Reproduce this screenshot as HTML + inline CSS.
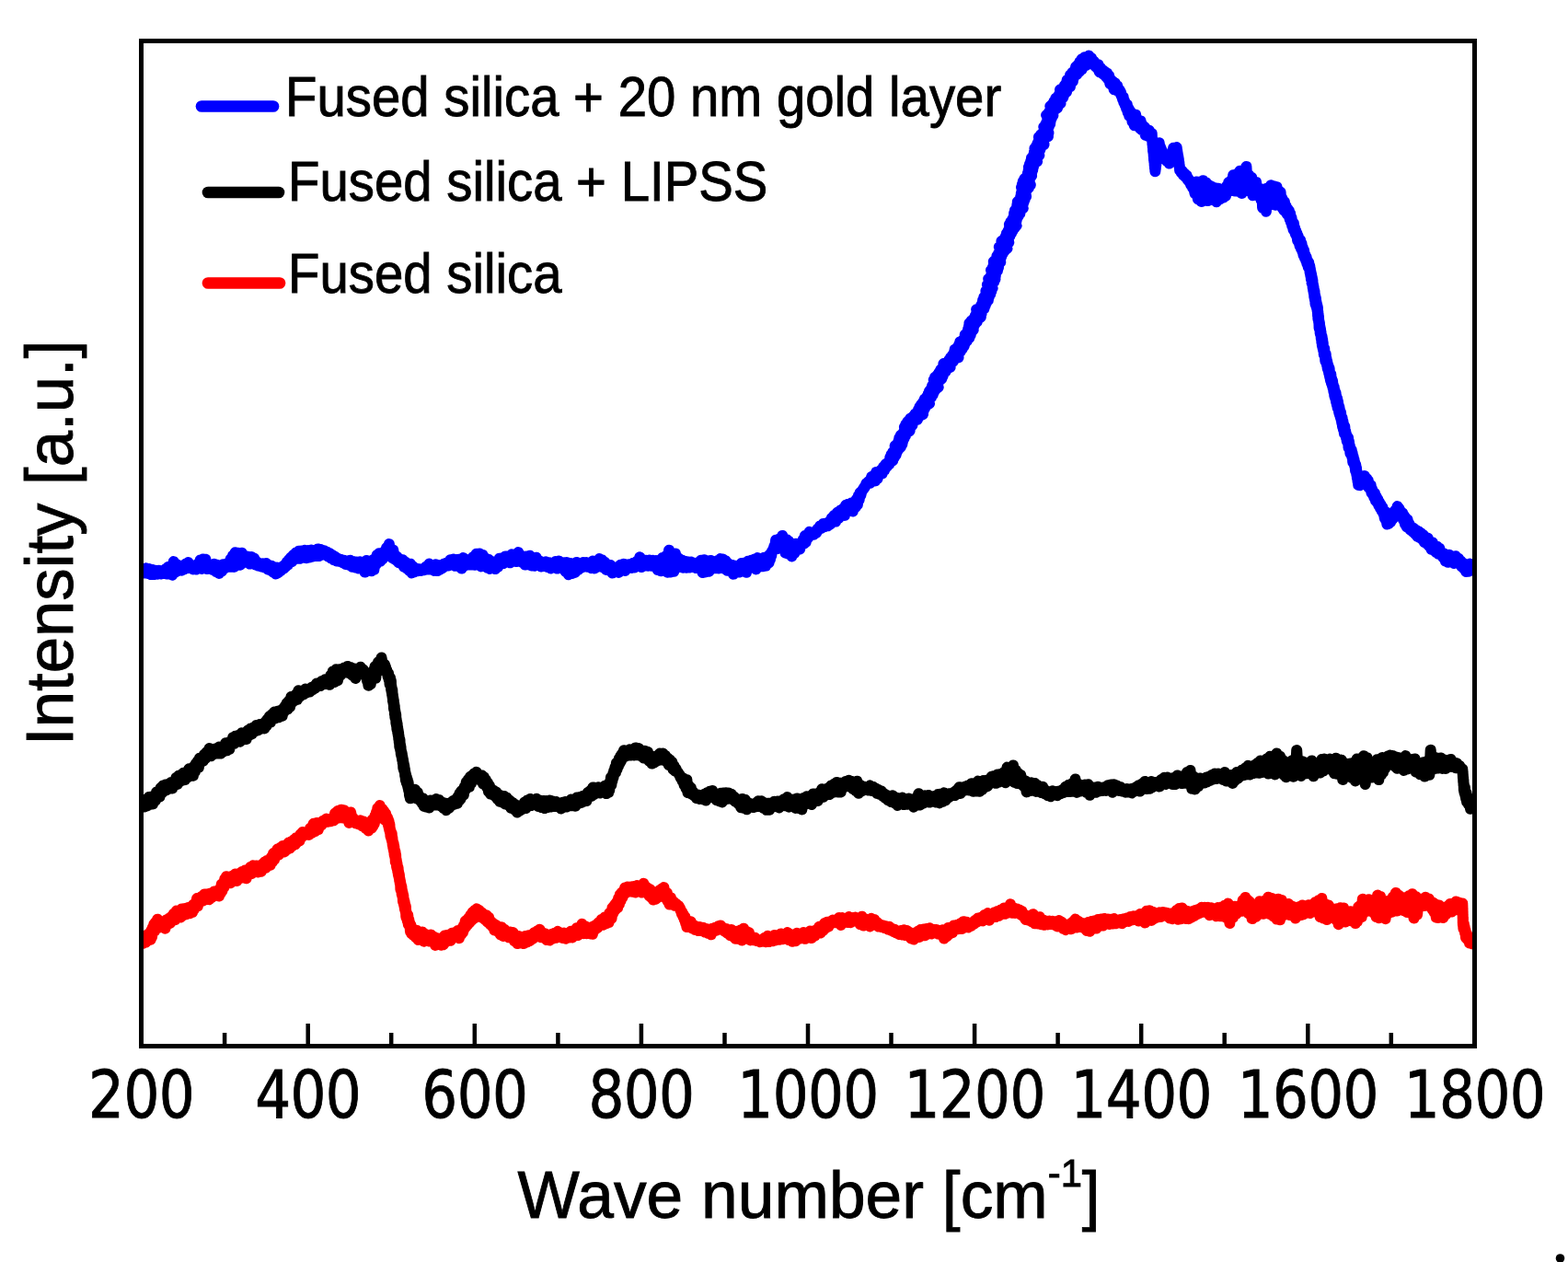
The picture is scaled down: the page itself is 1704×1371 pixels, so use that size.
<!DOCTYPE html>
<html><head><meta charset="utf-8"><title>Raman spectra</title>
<style>html,body{margin:0;padding:0;background:#fff;}svg{display:block}</style></head>
<body>
<svg width="1704" height="1371" viewBox="0 0 1704 1371">
<rect width="1704" height="1371" fill="#fff"/>
<defs><clipPath id="pa"><rect x="153" y="44" width="1450" height="1093"/></clipPath></defs>
<g clip-path="url(#pa)">
<path d="M153.5,623.0 155.3,618.3 157.0,622.4 158.8,617.3 160.6,623.0 162.3,618.1 164.1,624.1 165.8,618.9 167.6,624.0 169.4,619.7 171.1,623.8 172.9,619.7 174.6,623.5 176.4,621.8 177.9,623.1 179.5,618.5 181.0,623.4 182.6,616.0 184.1,623.4 185.7,615.3 187.2,624.7 188.7,610.1 190.5,621.6 192.3,613.3 194.0,620.0 195.8,614.8 197.5,619.7 198.9,614.3 200.4,618.3 201.8,612.5 203.2,617.2 204.6,611.0 206.3,616.9 208.1,614.0 209.9,618.4 211.6,615.8 213.1,618.6 214.6,612.9 216.0,616.1 217.5,608.6 219.0,618.0 220.4,607.5 221.9,615.1 223.4,607.7 224.8,618.1 226.3,612.6 227.8,617.3 229.2,614.7 231.0,619.0 232.7,612.8 234.5,620.9 236.3,613.7 238.0,622.9 239.5,614.2 241.0,620.5 242.4,613.2 243.9,617.6 245.4,613.6 246.8,615.4 248.1,611.2 249.3,615.7 250.6,607.4 251.9,615.8 253.1,603.4 254.4,615.9 255.6,600.3 257.4,611.1 259.2,600.8 260.9,613.7 262.7,600.7 264.4,611.2 266.2,604.1 268.0,610.8 269.7,604.8 271.5,612.6 273.2,605.0 274.7,612.0 276.2,606.6 277.6,613.4 279.1,610.1 280.6,614.6 282.0,612.6 283.8,615.5 285.6,612.3 287.3,616.5 289.1,611.9 290.8,618.4 292.3,614.1 293.8,619.6 295.2,614.7 296.7,621.5 298.2,617.2 299.6,623.4 301.1,616.5 302.6,622.2 304.0,617.2 305.5,619.8 307.0,615.5 308.5,617.5 309.6,613.6 310.7,615.5 311.8,610.5 312.9,613.6 314.0,607.9 315.1,610.6 316.2,605.6 317.3,610.1 318.7,603.1 320.2,606.4 321.7,600.4 323.1,606.8 324.6,598.7 326.1,606.8 327.8,598.6 329.6,605.7 331.3,597.8 333.1,606.2 334.9,598.1 336.6,605.5 338.4,597.5 340.1,604.4 341.9,597.7 343.7,604.1 345.4,596.4 347.2,603.9 348.9,597.0 350.7,602.6 352.5,598.3 353.9,601.8 355.4,599.7 356.9,604.7 358.3,601.0 359.8,606.6 361.3,603.0 362.7,608.2 364.2,604.8 365.7,609.5 367.1,606.7 368.6,609.8 370.1,607.7 371.8,610.9 373.6,608.8 375.4,612.9 377.1,609.4 378.9,613.6 380.6,608.7 382.4,615.7 384.2,609.9 385.9,616.4 387.7,610.4 389.4,617.5 391.2,610.3 393.0,617.6 394.7,610.8 396.5,621.6 398.2,609.0 400.0,619.1 401.8,611.2 403.5,620.3 405.3,608.2 406.4,618.8 407.5,608.6 408.6,613.2 409.7,602.9 410.8,610.3 411.9,601.3 413.0,609.9 414.1,602.0 415.6,607.5 417.0,599.7 418.5,604.5 420.0,595.1 421.4,603.4 422.9,591.1 424.0,602.9 425.1,597.7 426.2,606.0 427.3,597.6 428.4,607.2 429.5,603.1 430.6,608.7 431.7,605.1 433.2,611.0 434.6,607.6 436.1,612.5 437.6,608.2 439.0,615.8 440.5,610.5 441.9,617.5 443.3,612.7 444.6,619.7 446.0,612.7 447.4,622.4 448.8,615.4 450.6,621.2 452.3,617.6 454.1,620.3 455.8,618.3 457.6,620.1 459.4,617.9 461.1,619.3 462.9,615.8 464.6,618.4 466.4,612.6 468.2,618.6 469.9,614.7 471.7,619.9 473.5,613.2 475.2,620.1 476.7,614.6 478.1,618.9 479.6,613.7 481.1,617.1 482.5,612.5 484.0,614.9 485.8,611.5 487.5,614.6 489.3,608.2 491.1,613.2 492.8,607.4 494.6,614.8 496.3,607.9 498.1,614.2 499.9,607.4 501.6,617.6 503.4,606.1 505.1,614.5 506.9,608.1 508.7,613.6 510.4,608.4 512.2,613.5 513.9,605.2 515.7,613.8 517.5,601.7 519.2,613.6 521.0,601.4 522.7,615.4 524.5,603.0 526.3,614.6 528.0,606.5 529.5,616.6 531.0,608.0 532.4,617.9 533.9,609.9 535.4,617.3 536.8,612.3 538.3,618.1 539.8,610.5 541.2,615.8 542.7,606.7 544.2,612.3 545.6,606.3 547.4,612.0 549.2,604.4 550.9,610.3 552.7,604.2 554.4,611.3 556.2,602.3 558.0,609.7 559.7,603.1 561.5,610.0 563.2,600.1 564.7,609.2 566.2,604.1 567.6,611.1 569.1,604.6 570.6,613.6 572.0,604.5 573.8,612.6 575.6,603.7 577.3,614.5 579.1,606.5 580.8,614.8 582.6,605.7 584.4,613.8 586.1,609.2 587.9,615.4 589.6,611.2 591.4,615.0 593.2,610.3 594.9,616.0 596.7,611.2 598.5,617.5 600.2,611.5 602.0,616.2 603.7,610.1 605.5,617.6 607.3,609.6 608.7,616.7 610.2,611.5 611.7,617.4 613.1,611.2 614.6,621.0 616.1,611.1 617.8,624.2 619.6,611.9 621.3,623.1 623.1,612.9 624.9,621.9 626.6,610.9 628.4,618.9 630.1,612.4 631.9,616.8 633.7,611.0 635.4,615.6 637.2,611.0 638.9,615.8 640.7,612.0 642.5,617.2 644.2,609.6 646.0,617.4 647.7,609.8 649.5,615.8 651.3,607.1 652.7,615.3 654.2,608.3 655.7,616.7 657.1,610.6 658.6,618.9 660.1,613.0 661.8,619.2 663.6,614.0 665.4,622.5 667.1,616.5 668.9,620.6 670.6,616.7 672.4,621.9 674.2,613.7 675.9,619.5 677.7,612.7 679.4,619.9 681.2,613.6 683.0,616.5 684.7,612.9 686.5,616.9 688.2,611.7 690.0,616.4 691.8,610.0 693.5,613.8 695.3,605.3 697.0,616.1 698.8,608.3 700.6,614.6 702.3,608.7 704.1,614.7 705.8,608.6 707.6,614.8 709.4,608.8 711.1,615.2 712.9,608.9 714.6,619.0 716.4,610.4 718.2,620.3 719.9,606.0 721.7,619.8 723.5,604.1 725.2,621.7 727.0,597.8 728.7,621.5 730.5,605.7 732.3,620.8 734.0,601.5 735.8,616.6 737.5,606.6 739.3,616.0 741.0,608.5 742.6,616.7 744.3,609.8 745.9,616.7 747.6,610.4 749.4,616.6 751.1,610.6 752.9,616.0 754.6,611.8 756.4,617.0 758.2,611.3 759.9,617.2 761.7,608.7 763.5,622.1 765.2,608.2 767.0,621.4 768.7,609.4 770.5,620.7 772.3,608.9 774.0,617.1 775.8,610.7 777.5,617.2 779.3,609.3 781.1,617.4 782.8,607.1 784.3,614.5 785.8,607.6 787.2,617.6 788.7,609.4 790.2,619.8 791.6,612.5 793.4,619.0 795.1,613.8 796.9,623.7 798.7,614.7 800.4,621.0 802.2,614.7 803.9,621.5 805.7,611.9 807.5,619.8 809.2,611.6 811.0,621.8 812.7,609.8 814.5,616.9 816.3,608.7 818.0,615.1 819.8,607.6 821.5,618.4 823.3,606.1 825.1,615.5 826.8,607.0 828.6,615.3 830.4,605.7 832.1,614.7 833.9,605.7 835.6,611.4 836.3,602.5 837.0,607.7 837.6,601.3 838.3,603.6 838.9,598.9 839.6,599.2 840.3,596.5 840.9,595.4 841.6,592.9 842.3,593.9 843.1,586.7 844.9,596.0 846.6,585.6 848.4,593.1 850.2,581.9 851.3,593.3 852.5,585.4 853.6,600.7 854.7,586.2 855.9,601.4 857.0,587.9 858.2,600.5 859.3,591.8 860.4,604.4 861.9,591.0 863.3,601.0 864.8,590.7 866.3,597.5 867.7,591.8 869.2,596.6 870.6,590.0 871.7,591.6 872.7,586.1 873.7,590.5 874.7,582.1 875.7,588.9 877.0,581.4 878.3,584.2 879.6,577.8 880.8,581.3 882.5,578.4 884.2,580.8 885.9,578.2 887.2,578.8 888.5,574.5 889.8,575.3 891.1,571.4 892.8,573.7 894.5,569.0 896.2,572.2 897.9,568.4 899.6,571.3 901.3,566.8 902.5,569.6 903.8,562.7 905.1,567.3 906.4,559.9 908.1,566.6 909.8,556.8 911.5,562.9 913.2,554.4 914.9,560.0 916.6,552.2 917.9,559.9 919.1,548.8 920.4,555.7 921.7,547.7 923.4,554.7 925.1,546.6 926.8,555.5 928.3,546.3 929.9,550.9 930.9,542.1 931.9,548.2 932.9,538.3 933.7,542.7 934.6,535.3 935.4,537.9 936.2,534.2 937.0,533.1 937.9,531.6 938.7,530.8 939.6,528.7 940.4,528.5 941.3,525.6 942.1,525.7 943.8,523.0 945.5,524.8 947.2,517.9 948.5,522.5 949.8,516.4 951.0,522.4 952.3,512.9 953.6,520.1 954.9,512.5 956.1,515.9 957.4,510.6 958.7,514.4 960.0,507.2 961.3,510.7 962.5,504.2 963.8,507.1 965.1,502.1 966.4,504.3 966.9,500.5 970.2,500.4 967.3,496.9 971.7,497.4 968.6,493.8 973.6,494.5 970.4,490.9 974.7,491.3 972.4,488.1 976.4,488.4 972.6,484.4 978.8,485.9 975.1,481.9 980.4,482.7 976.5,479.1 981.2,479.4 977.3,475.8 982.6,476.4 978.8,472.8 984.1,473.4 981.4,470.4 985.7,470.5 982.7,467.3 988.6,468.2 982.9,463.8 988.9,464.7 984.4,460.9 991.4,462.2 986.2,458.1 991.5,460.8 989.2,454.7 993.3,457.1 992.1,452.5 996.9,455.8 994.5,449.6 999.6,452.1 996.9,448.5 1003.0,450.1 998.0,445.1 1003.6,446.5 999.4,442.0 1005.1,443.5 1001.3,439.2 1007.0,440.6 1003.4,436.5 1010.0,438.5 1004.8,433.4 1009.8,434.3 1007.3,430.9 1012.0,431.7 1008.7,428.0 1013.8,428.7 1009.9,424.9 1015.0,425.7 1011.8,422.3 1017.0,423.0 1013.0,419.2 1019.7,420.7 1014.8,416.4 1019.2,416.8 1014.7,412.7 1020.8,414.0 1016.1,409.8 1023.3,411.6 1018.6,407.4 1024.6,408.6 1020.5,404.7 1025.0,405.1 1022.4,401.4 1027.6,403.6 1024.8,399.1 1029.4,400.7 1025.4,395.1 1032.6,399.1 1029.5,394.2 1033.2,395.1 1031.1,391.2 1035.7,392.9 1033.0,388.3 1037.5,389.9 1034.9,386.0 1041.5,388.4 1036.7,383.1 1041.4,384.2 1037.6,379.7 1043.8,381.8 1040.3,377.4 1045.7,379.0 1042.1,374.5 1047.6,376.1 1043.3,371.2 1048.9,373.0 1046.4,369.3 1050.9,370.2 1048.2,366.9 1053.3,367.3 1048.7,363.5 1054.7,364.3 1051.1,360.9 1055.4,361.0 1052.0,357.7 1057.7,358.4 1052.9,354.5 1058.2,355.0 1053.4,351.0 1059.7,352.0 1055.6,348.4 1061.8,349.6 1058.3,345.9 1062.7,346.4 1059.8,343.0 1065.8,344.5 1061.1,340.0 1066.5,341.2 1061.1,336.3 1067.3,338.0 1064.4,334.5 1069.4,335.4 1066.2,331.8 1070.6,332.4 1067.5,328.9 1071.9,329.1 1068.1,326.0 1073.9,326.1 1069.3,322.7 1074.8,322.7 1071.2,319.7 1076.3,319.6 1071.4,316.1 1077.4,316.3 1073.1,313.1 1078.7,313.1 1072.9,309.3 1078.4,309.3 1075.0,306.5 1080.1,306.4 1074.2,302.9 1081.5,303.4 1076.6,300.2 1081.8,300.1 1077.5,297.0 1082.4,296.9 1077.0,293.5 1084.0,294.0 1078.8,290.6 1085.0,290.8 1079.8,287.5 1085.5,287.6 1079.8,284.1 1087.3,284.7 1082.4,281.5 1087.4,281.5 1083.4,278.1 1088.4,278.3 1085.1,275.2 1089.8,275.3 1086.6,272.2 1091.8,272.5 1085.8,268.2 1094.5,270.0 1089.2,266.0 1093.6,266.0 1088.4,262.0 1096.3,263.5 1091.2,259.6 1096.0,259.8 1092.9,256.6 1097.4,256.7 1093.9,253.5 1099.0,253.7 1095.6,250.5 1100.6,250.7 1096.8,247.4 1102.4,247.8 1096.9,243.8 1104.7,245.1 1098.4,240.8 1104.3,241.3 1100.4,237.9 1105.0,238.0 1101.7,234.9 1106.7,235.0 1102.1,231.6 1108.4,232.0 1103.0,228.4 1109.2,228.8 1104.8,225.6 1111.8,226.2 1105.4,222.4 1111.6,222.7 1105.8,219.1 1112.6,219.6 1108.5,216.5 1113.7,216.6 1109.2,213.4 1115.1,213.6 1109.8,210.1 1114.7,210.0 1110.5,206.9 1115.7,206.8 1110.0,203.5 1117.9,204.0 1110.9,200.3 1119.8,201.0 1111.8,197.1 1118.8,197.3 1113.4,194.1 1119.4,194.0 1116.1,191.4 1121.1,191.1 1116.9,188.2 1121.3,187.7 1117.7,184.9 1122.3,184.5 1117.9,181.4 1123.1,181.3 1119.0,178.1 1124.2,178.1 1120.2,174.9 1127.2,175.4 1121.0,171.5 1126.9,171.6 1123.1,168.5 1129.4,168.8 1123.9,165.2 1128.5,164.9 1124.4,161.3 1130.4,162.5 1126.1,158.5 1130.8,159.0 1127.5,155.5 1134.5,157.2 1128.8,152.5 1134.3,153.5 1128.9,148.9 1135.3,150.3 1131.0,146.3 1138.9,148.4 1133.2,144.3 1139.5,144.5 1135.0,141.4 1138.7,140.8 1134.3,137.8 1139.8,137.7 1136.3,135.0 1141.2,134.7 1137.6,132.0 1141.7,131.5 1138.7,128.9 1142.8,128.4 1137.1,125.0 1144.4,125.5 1139.9,122.0 1144.7,122.5 1141.3,119.0 1146.0,119.5 1141.3,115.4 1149.0,117.4 1143.9,113.0 1149.6,114.0 1145.5,110.2 1152.5,112.4 1147.2,106.8 1152.9,108.6 1149.8,104.3 1155.3,105.9 1151.5,101.3 1156.6,102.6 1152.0,97.4 1159.0,99.9 1155.7,95.8 1160.0,96.4 1156.9,92.8 1162.9,94.4 1158.7,90.2 1163.1,90.8 1159.6,87.0 1165.8,88.7 1162.1,84.7 1166.6,85.4 1163.0,81.5 1167.8,82.8 1165.4,78.6 1170.6,80.5 1168.0,76.2 1173.0,77.9 1169.1,72.6 1175.6,75.5 1171.6,70.1 1176.6,71.9 1173.5,67.1 1180.7,70.7 1175.6,64.3 1182.1,67.4 1178.6,62.2 1181.7,67.0 1183.2,60.5 1184.6,66.4 1186.1,63.0 1187.5,67.6 1188.7,66.4 1190.0,72.0 1191.2,69.2 1192.4,74.0 1193.6,70.2 1194.8,78.3 1196.0,73.8 1197.3,79.5 1198.5,76.1 1199.7,81.1 1200.9,77.9 1202.1,83.6 1203.2,79.6 1204.2,86.2 1205.2,82.4 1206.3,91.0 1207.3,86.5 1208.4,92.5 1209.4,88.6 1210.6,97.1 1211.8,90.5 1213.1,98.0 1214.3,93.4 1215.5,99.2 1216.7,97.8 1217.4,101.5 1218.0,100.0 1218.7,104.4 1219.4,103.8 1220.0,107.9 1220.7,105.5 1221.3,111.4 1222.0,109.6 1222.7,114.5 1223.3,112.4 1224.0,117.7 1224.8,113.6 1225.6,122.0 1226.4,117.8 1227.2,125.8 1228.0,120.4 1228.9,127.4 1229.7,122.6 1230.5,132.2 1231.3,124.4 1232.7,136.2 1234.2,124.8 1235.7,135.1 1237.1,130.2 1238.6,139.3 1239.6,131.4 1240.7,141.0 1241.7,136.1 1242.8,142.2 1243.8,138.1 1244.8,146.7 1245.9,140.5 1247.3,147.8 1248.8,141.8 1250.3,147.7 1251.7,144.8 1251.9,149.9 1252.0,149.5 1252.2,153.7 1252.3,151.4 1252.5,157.2 1252.7,155.4 1252.8,160.2 1253.0,158.7 1253.1,164.3 1253.3,162.2 1253.5,166.4 1253.6,165.9 1253.8,169.9 1253.9,168.6 1254.1,174.2 1254.3,171.8 1254.4,176.3 1254.6,175.7 1254.7,179.8 1254.9,178.7 1255.0,183.0 1255.2,181.7 1255.4,186.2 1255.6,181.1 1255.8,183.4 1256.0,178.9 1256.2,179.9 1256.4,175.9 1256.6,176.8 1256.8,171.9 1257.0,173.4 1257.2,169.0 1257.4,170.2 1257.6,165.8 1257.8,166.7 1258.0,162.8 1258.2,163.3 1258.4,159.4 1258.6,160.2 1258.8,156.5 1259.0,157.3 1259.7,155.2 1260.3,160.2 1261.0,159.4 1261.6,163.5 1262.2,162.3 1262.9,166.5 1263.5,165.8 1264.2,171.1 1264.8,169.2 1266.0,173.1 1267.2,171.4 1268.3,175.4 1269.5,174.2 1270.7,177.6 1271.2,173.4 1271.7,175.3 1272.1,169.1 1272.6,170.8 1273.1,166.7 1273.6,168.2 1274.1,164.0 1274.6,164.5 1275.1,160.7 1276.9,162.9 1278.7,160.0 1279.0,164.4 1279.2,163.4 1279.5,169.0 1279.7,166.6 1280.0,171.6 1280.3,169.8 1280.5,174.6 1280.8,172.7 1281.0,178.4 1281.3,176.1 1281.6,181.3 1281.8,180.0 1282.1,185.1 1282.3,182.7 1283.6,187.5 1284.8,185.9 1286.0,190.3 1287.2,188.3 1288.4,192.5 1289.6,190.6 1290.6,195.1 1291.5,194.1 1292.4,197.6 1293.3,196.8 1294.2,201.1 1295.1,199.2 1296.0,204.0 1296.9,202.2 1298.6,210.3 1300.2,197.5 1301.9,216.5 1303.7,197.4 1305.5,219.0 1307.4,196.2 1309.2,216.0 1310.6,198.6 1312.1,218.1 1313.6,201.3 1315.0,217.0 1316.5,202.7 1318.3,217.3 1320.1,204.1 1321.9,219.3 1323.8,204.7 1325.6,216.6 1327.4,206.1 1329.2,214.7 1331.1,207.0 1332.1,212.8 1333.1,202.2 1334.2,208.4 1335.2,198.2 1336.3,207.5 1337.3,196.6 1338.4,205.4 1340.2,190.3 1342.0,207.5 1343.8,189.2 1345.6,207.9 1347.5,185.7 1349.3,210.0 1351.1,188.9 1352.9,202.9 1354.4,180.9 1355.9,207.0 1357.3,190.5 1358.8,205.6 1360.2,192.9 1361.4,212.2 1362.7,198.4 1363.9,210.0 1365.1,198.0 1366.3,211.0 1367.5,205.3 1368.4,213.6 1369.4,205.8 1370.3,216.7 1371.2,205.4 1372.1,225.7 1373.0,210.0 1373.9,223.9 1374.8,208.0 1375.9,229.7 1376.9,204.5 1377.9,222.4 1379.0,205.0 1380.0,218.9 1381.1,201.3 1382.1,221.9 1383.9,202.3 1385.8,222.7 1387.6,203.3 1389.4,215.2 1390.1,207.7 1390.9,220.2 1391.6,208.7 1392.3,221.8 1393.1,215.3 1393.8,226.3 1394.5,217.9 1395.2,228.5 1396.0,219.7 1396.7,229.6 1397.7,224.1 1398.6,232.5 1399.6,227.5 1400.3,233.9 1400.9,229.1 1401.6,238.0 1402.2,232.3 1402.9,241.5 1403.5,236.6 1404.2,245.4 1404.8,241.1 1405.5,249.6 1406.0,243.1 1406.6,250.9 1407.2,247.8 1407.8,254.1 1408.4,251.1 1409.0,256.5 1409.5,254.0 1410.1,261.3 1410.7,256.7 1411.3,263.5 1411.9,260.7 1412.6,267.3 1413.2,261.3 1413.9,270.0 1414.5,264.6 1415.2,272.7 1415.8,269.2 1416.5,277.1 1417.1,272.2 1417.8,279.9 1418.4,276.8 1419.1,282.7 1419.7,279.7 1420.4,286.7 1421.0,283.3 1421.7,290.2 1422.3,285.5 1423.0,292.8 1423.3,288.8 1423.6,296.3 1423.9,292.0 1424.3,299.6 1424.6,295.6 1424.9,303.6 1425.2,298.2 1425.6,307.8 1425.9,301.8 1426.1,308.2 1426.4,304.3 1426.7,312.8 1426.9,308.6 1427.2,315.7 1427.5,311.5 1427.7,318.4 1428.0,314.6 1428.3,322.7 1428.5,316.2 1428.8,325.4 1429.2,321.3 1429.5,330.2 1429.9,323.8 1430.3,332.4 1430.6,328.5 1431.0,335.0 1431.3,331.4 1431.7,338.4 1431.9,333.8 1432.1,343.4 1432.3,338.3 1432.4,346.7 1432.6,340.9 1432.8,347.9 1433.0,343.7 1433.2,350.5 1433.3,347.7 1433.6,356.6 1433.9,350.4 1434.2,357.8 1434.4,354.4 1434.7,362.3 1435.0,357.2 1435.3,364.3 1435.5,360.4 1435.8,368.0 1436.1,364.6 1436.4,372.2 1436.6,365.5 1436.9,375.5 1437.2,368.8 1437.5,378.0 1437.7,372.1 1438.0,380.2 1438.4,377.5 1438.8,385.1 1439.2,378.4 1439.6,386.7 1439.9,384.1 1440.3,392.3 1440.7,384.6 1441.1,393.1 1441.5,389.7 1441.9,396.5 1442.3,393.0 1442.7,400.5 1443.1,396.4 1443.5,402.6 1443.8,398.2 1444.2,405.7 1444.6,400.2 1445.0,409.0 1445.4,405.8 1445.9,413.1 1446.3,406.6 1446.8,415.8 1447.2,411.6 1447.6,418.2 1448.1,414.0 1448.5,421.5 1448.9,418.6 1449.4,425.5 1449.8,421.1 1450.3,430.2 1450.7,425.1 1451.1,432.6 1451.6,427.1 1452.0,436.6 1452.4,431.0 1452.8,439.7 1453.2,433.0 1453.6,442.9 1454.0,436.2 1454.3,443.8 1454.7,440.2 1455.1,448.0 1455.5,442.8 1455.9,450.8 1456.3,446.4 1456.7,453.1 1457.1,448.6 1457.5,455.8 1457.8,452.6 1458.2,459.4 1458.6,453.9 1459.0,463.5 1459.5,458.0 1459.9,466.7 1460.4,462.0 1460.9,470.9 1461.3,463.2 1461.8,471.9 1462.3,468.7 1462.7,474.9 1463.2,472.1 1463.7,479.1 1464.1,474.8 1464.6,480.7 1465.1,475.7 1465.5,486.4 1466.0,479.9 1466.5,487.3 1466.9,484.5 1467.4,492.7 1467.9,487.6 1468.3,493.3 1468.8,489.2 1469.3,496.6 1469.7,492.6 1470.2,502.0 1470.7,496.4 1471.1,502.8 1471.6,499.7 1472.1,506.1 1472.5,503.2 1473.0,511.3 1473.3,504.9 1473.6,512.8 1474.0,508.1 1474.3,515.8 1474.6,512.4 1474.9,519.4 1475.2,516.3 1475.6,523.3 1475.9,519.3 1476.2,526.9 1476.5,520.8 1478.1,527.2 1479.8,519.8 1481.4,525.1 1483.0,517.1 1484.7,523.4 1485.4,520.2 1486.1,525.9 1486.8,522.2 1487.6,529.9 1488.3,525.9 1489.0,531.3 1489.7,527.2 1490.4,535.3 1491.1,531.4 1491.9,537.6 1492.6,534.7 1493.3,540.6 1494.0,535.9 1494.9,543.9 1495.7,539.7 1496.6,545.8 1497.4,542.5 1498.3,549.1 1499.1,545.8 1500.0,552.2 1500.8,548.7 1501.7,555.2 1502.5,551.4 1503.3,557.7 1504.0,555.0 1504.7,562.8 1505.3,556.1 1506.0,564.9 1506.7,559.5 1507.3,569.4 1508.0,564.3 1509.1,569.0 1510.1,561.8 1511.2,567.1 1512.3,560.1 1513.3,564.0 1514.4,556.3 1515.4,561.7 1516.5,554.0 1517.6,559.4 1518.6,550.1 1519.7,556.5 1520.6,552.7 1521.5,559.0 1522.4,555.7 1523.3,561.8 1524.2,557.3 1525.1,564.7 1526.0,560.7 1526.9,569.5 1527.8,562.9 1528.7,572.4 1529.6,564.6 1530.5,573.2 1531.4,569.1 1532.6,575.6 1533.9,572.4 1535.2,577.7 1536.4,573.9 1537.7,579.9 1539.0,576.0 1540.3,582.9 1541.5,577.3 1542.8,583.9 1544.1,579.0 1545.4,585.8 1546.6,581.1 1547.9,589.2 1549.2,583.6 1550.4,590.7 1551.7,584.5 1553.0,593.3 1554.3,589.3 1555.5,596.8 1556.8,589.5 1558.1,598.0 1559.4,593.4 1560.6,600.2 1561.9,593.8 1563.2,601.8 1564.4,596.0 1565.7,602.6 1567.0,600.0 1568.3,605.8 1569.5,601.6 1570.8,609.6 1572.1,603.2 1573.4,610.8 1575.0,602.8 1576.7,609.7 1578.4,605.0 1580.0,611.9 1581.7,604.2 1583.4,611.6 1585.0,606.8 1586.2,613.0 1587.4,609.5 1588.5,615.6 1589.7,611.6 1590.9,617.8 1592.0,612.9 1593.2,621.0 1594.4,615.2 1595.9,620.8 1597.5,612.6 1599.0,616.4" fill="none" stroke="#0000ff" stroke-width="12" stroke-linejoin="round" stroke-miterlimit="2.5" stroke-linecap="round"/>
<path d="M157.0,876.5 158.6,868.4 160.1,875.4 161.6,866.0 163.1,873.9 164.6,865.5 166.1,873.4 167.6,865.4 168.8,869.7 170.0,860.6 171.1,866.7 172.3,859.6 173.5,865.5 174.6,855.9 175.8,861.7 177.0,853.6 178.2,859.6 179.7,852.5 181.2,858.2 182.7,851.9 184.2,856.5 185.7,850.1 187.2,856.5 188.7,849.3 190.1,853.0 191.4,844.9 192.7,851.8 194.0,842.7 195.3,849.0 196.7,841.7 198.0,846.8 199.3,839.8 200.8,847.2 202.3,839.7 203.8,844.5 205.3,835.3 206.8,842.0 208.4,836.7 209.9,842.7 210.9,832.5 211.9,838.3 212.9,829.5 213.9,834.5 214.9,826.8 215.9,833.6 216.9,823.7 218.2,828.0 219.4,822.7 220.7,826.7 221.9,819.7 223.2,824.0 224.4,817.2 225.7,820.6 227.5,813.1 229.2,821.3 231.0,814.7 232.7,819.2 234.5,813.2 236.3,818.6 238.0,811.6 239.8,818.6 241.5,811.3 243.3,816.3 245.1,807.2 246.8,815.3 248.1,806.7 249.3,813.8 250.6,805.5 251.9,808.9 253.1,801.2 254.4,807.9 255.6,799.7 257.4,805.0 259.2,798.7 260.9,805.7 262.7,796.3 264.4,802.9 266.2,796.5 267.7,803.0 269.2,793.6 270.7,798.8 272.2,791.6 273.7,797.4 275.3,790.4 276.8,794.6 278.5,788.0 280.3,793.4 282.0,787.1 283.8,791.7 285.6,786.7 287.3,791.4 288.4,784.0 289.5,788.6 290.6,781.2 291.7,785.9 292.8,778.3 293.9,784.6 295.0,776.4 296.1,780.3 297.9,773.6 299.6,780.2 301.4,772.8 303.2,779.2 304.9,771.8 306.7,777.7 307.7,769.8 308.7,773.4 309.7,767.2 310.7,770.8 311.7,763.7 312.7,770.3 313.7,761.6 315.1,767.7 316.4,756.9 317.7,762.9 319.0,757.6 320.3,761.1 321.7,754.2 323.0,760.0 324.3,750.3 326.2,756.5 328.1,751.7 330.0,754.3 331.8,748.5 333.5,752.2 335.3,748.6 337.0,751.4 338.5,746.8 339.9,749.3 341.3,745.3 342.7,747.4 344.1,742.4 345.5,745.5 346.9,742.1 348.3,745.1 349.7,739.9 351.1,743.4 352.9,738.3 354.6,743.1 356.4,738.5 358.2,743.8 359.3,733.7 360.5,741.6 361.7,729.5 363.5,741.1 365.2,727.3 367.0,739.2 368.7,727.3 369.9,733.7 371.1,727.4 372.3,729.0 374.0,725.4 375.8,730.4 377.5,723.9 379.3,731.1 381.1,724.9 382.8,733.5 384.6,726.4 386.3,737.0 388.1,726.4 389.9,732.8 391.6,724.7 393.4,732.2 394.6,727.4 395.7,733.2 396.9,732.4 397.6,735.1 398.3,734.7 399.0,739.7 399.7,735.5 400.4,744.8 401.6,735.7 402.8,743.2 403.9,733.0 404.8,738.1 405.7,728.3 406.6,735.8 407.5,724.0 408.3,736.7 409.2,722.4 410.1,730.0 411.0,719.3 412.7,726.2 414.5,714.5 416.3,724.5 418.0,721.8 418.5,723.7 419.0,724.5 419.6,727.8 420.1,727.6 420.6,731.4 421.1,730.5 421.6,735.2 422.1,731.8 422.6,738.3 423.1,735.5 423.6,743.7 424.1,736.7 424.6,744.8 424.9,739.6 425.1,749.5 425.4,745.4 425.6,751.8 425.8,747.9 426.1,755.1 426.3,749.2 426.6,757.8 426.8,754.3 427.0,761.9 427.3,758.0 427.5,764.4 427.8,760.6 428.0,770.0 428.2,764.1 428.5,770.7 428.7,766.7 429.0,776.4 429.2,771.1 429.4,779.6 429.7,774.0 429.9,780.9 430.2,776.1 430.4,786.0 430.6,780.8 430.9,788.3 431.1,783.7 431.4,792.4 431.6,785.9 431.9,793.0 432.1,789.8 432.3,796.6 432.6,793.0 432.8,799.4 433.1,795.6 433.3,803.2 433.5,799.0 433.8,806.7 434.0,802.5 434.3,811.6 434.5,803.6 434.7,812.0 435.0,808.7 435.2,815.1 435.5,811.1 435.8,819.3 436.1,816.1 436.5,822.1 436.8,818.8 437.1,825.4 437.4,822.3 437.7,829.0 438.0,825.2 438.3,834.6 438.6,828.8 438.9,836.4 439.3,831.9 439.6,838.6 439.9,835.6 440.2,843.1 440.5,839.1 440.9,847.8 441.3,842.6 441.7,850.2 442.1,845.3 442.5,852.0 442.9,847.7 443.3,855.2 443.7,850.5 444.1,858.8 444.6,855.7 445.0,864.1 445.4,858.1 445.8,867.3 447.6,858.6 449.3,865.2 451.1,857.8 452.9,867.5 453.9,861.1 454.8,867.4 455.8,864.8 456.8,870.2 457.8,866.8 458.8,872.9 459.7,867.4 460.7,875.9 461.7,872.3 463.2,876.6 464.8,872.0 466.3,877.5 467.9,869.6 469.4,874.7 470.9,869.5 472.5,874.6 474.0,868.1 475.6,874.6 477.1,869.0 478.6,875.3 480.2,871.6 481.7,877.9 483.3,872.6 484.8,880.2 486.3,873.8 487.8,878.1 489.4,872.1 490.9,875.2 492.4,869.9 493.9,873.6 495.4,868.1 496.9,872.8 497.8,865.1 498.7,870.0 499.5,861.9 500.4,868.0 501.3,859.3 502.2,864.9 503.1,857.7 503.9,863.3 504.8,854.6 505.7,858.1 506.8,849.4 507.8,855.9 508.9,846.6 509.9,854.9 511.0,843.8 512.0,850.9 513.1,842.6 514.2,847.2 515.2,840.4 516.3,846.4 517.7,838.8 519.2,845.4 520.7,842.0 522.1,847.9 523.6,842.4 525.1,851.7 526.0,844.4 527.0,852.4 528.0,847.5 529.0,855.3 530.0,850.6 530.9,859.9 531.9,853.7 532.9,862.6 533.9,857.2 535.2,863.2 536.5,858.7 537.8,864.9 539.2,860.5 540.5,868.1 541.8,863.1 543.1,870.8 544.4,864.3 546.0,871.6 547.5,864.9 549.1,873.5 550.6,866.7 552.1,874.5 553.7,869.5 555.2,877.7 556.8,871.7 558.5,879.1 560.3,874.1 562.0,882.5 563.8,875.4 565.3,880.4 566.9,874.8 568.4,878.6 570.0,871.6 571.5,878.1 573.0,869.4 574.6,875.7 576.1,867.9 577.9,874.9 579.6,869.0 581.4,874.3 583.2,867.7 584.9,875.9 586.7,869.6 588.5,877.1 590.2,869.9 592.0,878.1 593.7,870.0 595.5,877.0 597.3,869.6 599.0,876.4 600.8,870.5 602.5,876.1 604.3,871.0 606.1,876.2 607.8,872.2 609.6,878.5 611.3,871.8 612.9,876.7 614.4,871.1 616.0,876.4 617.5,870.9 619.0,875.3 620.6,868.6 622.1,875.2 623.7,869.1 625.2,875.7 626.7,866.5 628.3,872.9 629.8,866.1 631.4,872.0 632.9,865.1 634.4,870.8 636.0,864.3 637.4,870.1 638.7,861.1 640.1,865.6 641.5,859.1 642.8,864.8 644.2,855.5 645.6,863.0 646.9,855.8 648.3,860.7 650.1,855.3 651.8,861.6 653.6,856.1 655.4,860.6 657.1,853.8 658.9,862.1 660.6,854.3 661.2,861.0 661.7,852.4 662.3,858.1 662.8,849.5 663.3,853.2 663.9,844.6 664.4,852.6 665.0,843.5 665.5,847.9 666.1,840.9 666.6,844.3 667.1,837.6 667.7,840.7 668.4,833.7 669.1,839.0 669.9,828.8 670.6,835.6 671.3,828.6 672.1,831.9 672.8,824.0 673.5,828.8 674.3,821.5 675.0,826.5 675.7,819.3 676.5,823.4 678.0,815.2 679.6,822.0 681.1,817.1 682.6,820.8 684.2,814.3 685.7,820.5 687.3,815.3 688.8,820.5 690.6,812.4 692.3,820.2 694.1,813.0 695.8,821.0 697.6,815.4 699.4,823.5 700.9,815.8 702.4,823.6 703.9,816.9 705.4,826.6 706.9,820.8 708.4,829.6 709.9,822.2 711.7,828.3 713.5,821.3 715.2,826.0 717.0,818.6 718.7,825.6 720.5,818.6 721.8,825.9 723.0,820.8 724.3,827.4 725.5,823.5 726.8,831.2 728.0,825.5 729.3,832.1 730.3,827.8 731.4,835.7 732.4,831.8 733.5,837.4 734.5,835.0 735.5,838.4 736.6,838.7 737.6,840.7 738.6,841.8 739.6,844.8 740.5,844.2 741.5,848.3 742.5,845.4 743.5,852.7 744.5,847.8 745.4,856.5 746.4,847.3 747.5,861.2 748.6,853.6 749.7,860.7 750.8,855.8 751.9,862.8 753.0,860.0 754.1,864.2 755.2,863.3 757.0,867.2 758.7,863.4 760.5,868.0 762.3,864.0 764.0,868.3 765.5,862.8 766.9,869.6 768.4,861.3 769.9,866.9 771.3,859.8 772.8,865.2 774.3,859.0 775.8,865.8 777.2,862.2 778.7,869.3 780.2,862.9 781.6,870.4 783.1,861.8 784.6,871.5 786.0,861.4 787.5,866.8 789.0,861.2 790.4,867.9 791.9,861.5 793.4,867.0 794.8,862.8 796.3,868.7 797.8,865.7 799.2,870.8 800.7,868.0 802.2,872.9 803.6,869.4 805.1,877.2 806.6,867.9 808.0,877.8 809.8,869.0 811.5,879.3 813.3,872.1 815.1,876.4 816.8,873.6 818.6,877.1 820.4,872.9 822.1,876.2 823.9,870.3 825.6,876.0 827.4,870.3 829.2,877.7 830.9,872.2 832.7,879.8 834.4,872.7 836.2,879.8 838.0,872.5 839.7,876.2 841.5,870.7 843.2,876.3 845.0,870.5 846.8,877.4 848.5,870.2 850.3,875.1 852.0,868.2 853.8,875.3 855.6,866.1 857.3,876.7 859.1,868.4 860.8,875.2 862.6,868.4 864.4,877.9 866.1,867.4 867.9,878.1 869.6,868.2 871.4,879.4 873.2,867.0 874.9,873.7 876.7,865.3 878.5,871.4 880.2,865.1 882.0,874.0 883.7,862.4 885.5,869.5 887.3,862.5 888.7,870.1 890.2,861.1 891.7,866.7 893.1,857.3 894.6,865.8 896.1,859.5 897.8,863.7 899.6,856.3 901.3,863.1 903.1,853.4 904.9,861.0 906.3,851.8 907.8,859.9 909.3,849.9 910.7,860.4 912.2,850.7 913.7,860.6 915.4,850.6 917.2,855.3 918.9,849.0 920.7,854.2 922.5,847.8 923.9,854.2 925.4,848.7 926.9,857.2 928.3,851.0 929.8,859.0 931.3,848.7 933.0,861.8 934.8,853.0 936.5,859.4 938.3,854.4 940.1,858.1 941.8,855.0 943.6,858.4 945.4,853.3 947.1,859.0 948.9,854.8 950.3,859.3 951.8,856.5 953.3,862.1 954.7,857.9 956.2,863.0 957.7,859.4 959.1,864.7 960.6,862.0 962.1,866.9 963.5,863.7 965.0,869.2 966.5,866.7 968.2,871.0 970.0,864.3 971.8,872.1 973.5,866.6 975.3,874.9 977.0,867.3 978.8,873.2 980.6,866.6 982.3,874.1 984.1,868.4 985.8,873.7 987.6,867.4 989.4,873.9 991.1,868.7 992.9,876.7 994.6,867.8 996.4,874.4 998.2,862.2 999.9,874.5 1001.7,864.4 1003.5,872.6 1005.2,864.3 1007.0,871.3 1008.7,863.9 1010.5,871.6 1012.3,865.7 1014.0,870.8 1015.8,864.8 1017.5,871.6 1019.3,862.9 1021.0,872.4 1022.6,862.4 1024.3,870.9 1025.9,861.3 1027.6,869.3 1029.4,863.2 1031.1,866.3 1032.9,861.9 1034.6,864.4 1036.4,860.8 1037.9,864.0 1039.3,858.6 1040.8,862.5 1042.3,855.2 1043.7,861.9 1045.2,855.4 1047.0,859.2 1048.7,854.6 1050.5,858.3 1052.3,853.3 1054.0,858.6 1055.8,851.2 1057.5,859.8 1059.3,852.1 1061.1,859.5 1062.8,848.6 1064.3,859.8 1065.8,849.2 1067.2,857.9 1068.7,848.1 1070.2,855.2 1071.6,847.7 1073.1,854.1 1074.6,847.0 1076.0,851.3 1077.5,843.8 1079.0,850.2 1080.4,843.0 1082.2,850.8 1083.9,841.5 1085.7,849.6 1087.5,840.9 1089.2,848.4 1091.0,839.0 1092.7,850.2 1094.5,833.6 1096.3,846.9 1098.0,835.5 1099.5,846.0 1101.0,831.5 1102.4,850.0 1103.9,836.9 1105.4,851.0 1106.8,840.4 1108.1,850.6 1109.3,842.2 1110.6,852.6 1111.9,847.2 1113.1,854.7 1114.4,848.3 1115.6,860.4 1117.4,850.2 1119.2,859.0 1120.9,850.3 1122.7,857.0 1124.4,850.9 1125.9,859.9 1127.4,853.2 1128.8,859.9 1130.3,855.0 1131.8,861.1 1133.2,854.8 1135.0,862.0 1136.8,858.9 1138.5,864.2 1140.3,860.5 1142.0,865.3 1143.8,859.2 1145.6,863.5 1147.3,859.9 1149.1,864.3 1150.8,859.4 1152.6,862.2 1154.4,858.0 1156.1,860.9 1157.9,854.8 1159.6,860.0 1161.4,852.7 1163.2,860.0 1164.9,851.3 1166.7,859.7 1168.5,846.5 1170.2,860.9 1172.0,851.9 1173.7,859.6 1175.5,853.3 1177.3,858.2 1179.0,852.4 1180.8,861.1 1182.5,852.2 1184.3,863.8 1186.1,855.1 1187.8,860.4 1189.6,855.6 1191.3,860.8 1193.1,854.7 1194.9,859.5 1196.6,855.7 1198.4,859.0 1200.1,855.2 1201.9,858.9 1203.7,853.2 1205.4,858.8 1207.2,852.4 1208.9,860.8 1210.7,852.3 1212.5,858.3 1214.2,853.6 1216.0,859.0 1217.7,855.0 1219.5,859.5 1221.3,857.2 1223.0,860.7 1224.8,857.0 1226.5,860.5 1228.3,857.2 1230.1,861.4 1231.5,856.5 1233.0,859.6 1234.5,855.1 1235.9,858.8 1237.4,853.3 1238.9,859.6 1240.6,851.7 1242.4,856.2 1244.2,848.9 1245.9,857.1 1247.7,850.9 1249.4,856.8 1251.2,849.0 1253.0,855.0 1254.7,849.9 1256.5,853.6 1258.2,849.7 1260.0,854.5 1261.8,847.1 1263.5,851.2 1265.3,844.8 1267.0,851.9 1268.8,844.6 1270.6,850.6 1272.3,845.7 1274.1,851.9 1275.8,845.0 1277.6,852.0 1279.4,842.4 1281.1,849.8 1282.9,843.7 1284.6,851.1 1286.4,842.7 1288.2,850.7 1289.9,839.1 1291.7,851.3 1293.5,836.9 1295.2,856.8 1297.0,843.7 1298.7,857.4 1300.5,845.5 1302.3,854.2 1304.0,845.5 1305.8,851.1 1307.5,846.0 1309.3,850.4 1310.8,844.6 1312.3,849.3 1313.7,843.7 1315.2,847.9 1316.7,842.1 1318.2,846.6 1320.0,840.4 1321.8,846.0 1323.7,840.4 1325.5,845.5 1327.3,840.8 1329.1,846.9 1330.9,839.0 1332.7,848.6 1334.6,842.5 1336.4,848.8 1337.9,841.9 1339.4,850.9 1340.9,841.8 1342.4,847.6 1344.0,839.0 1345.5,845.3 1347.0,839.9 1348.5,843.1 1350.0,836.4 1351.5,842.1 1353.1,834.4 1354.6,841.4 1356.4,831.8 1358.2,841.6 1360.0,833.0 1361.9,840.1 1363.7,831.0 1365.2,839.6 1366.7,828.9 1368.2,839.7 1369.7,826.5 1371.3,839.0 1372.8,827.3 1374.6,837.3 1376.4,824.6 1378.2,840.6 1380.0,821.8 1381.9,840.1 1383.7,824.7 1385.5,841.4 1387.3,818.6 1389.1,839.0 1391.0,821.6 1392.3,836.7 1393.6,825.5 1394.9,841.6 1396.2,827.6 1397.5,844.3 1398.8,830.5 1400.1,842.9 1401.4,830.6 1402.7,842.4 1404.0,826.4 1405.3,843.8 1406.6,824.7 1407.9,841.3 1409.2,814.9 1410.7,839.4 1412.2,826.4 1413.7,842.9 1415.2,827.2 1416.7,839.3 1418.3,828.4 1420.1,840.2 1421.9,830.1 1423.7,838.3 1425.5,826.4 1427.3,843.3 1429.2,828.7 1431.0,839.3 1432.8,830.0 1434.6,839.6 1436.4,825.1 1438.0,837.5 1439.5,824.6 1441.0,834.8 1442.5,825.9 1444.0,834.7 1445.5,824.6 1447.1,836.6 1448.6,826.1 1450.1,840.3 1451.6,823.8 1453.1,840.8 1454.6,828.8 1456.2,841.4 1457.7,825.6 1459.2,847.0 1460.7,828.9 1462.2,841.4 1463.7,830.6 1465.6,842.8 1467.4,829.6 1469.2,845.0 1471.0,828.6 1472.8,848.4 1474.6,824.6 1476.5,844.7 1478.3,826.4 1480.1,844.8 1481.9,821.3 1483.7,851.9 1485.6,823.3 1487.4,842.9 1489.2,831.1 1491.0,844.5 1492.8,832.0 1494.7,844.0 1496.5,825.2 1498.3,847.1 1500.1,828.4 1501.1,841.3 1502.1,823.0 1503.1,838.7 1504.2,826.4 1505.2,834.7 1506.2,823.7 1507.2,828.8 1508.2,821.6 1509.2,827.7 1510.7,820.5 1512.2,827.9 1513.8,821.2 1515.3,832.3 1516.8,822.5 1518.3,834.8 1520.1,823.3 1521.9,833.3 1523.8,824.3 1525.6,836.9 1527.4,821.1 1529.2,835.6 1531.0,825.9 1532.9,834.4 1534.7,825.0 1536.5,833.8 1537.6,824.4 1538.8,838.7 1539.9,829.3 1541.1,839.0 1542.2,829.8 1543.3,841.3 1544.5,833.4 1545.6,841.6 1546.9,828.2 1548.2,843.6 1549.5,828.3 1550.8,841.8 1552.1,826.1 1553.4,841.7 1554.7,814.8 1556.5,836.0 1558.3,822.8 1560.2,834.8 1562.0,823.6 1563.8,834.4 1565.6,823.4 1567.4,834.9 1569.2,825.4 1571.1,834.9 1572.9,827.5 1574.7,833.0 1576.5,824.9 1578.3,832.9 1580.2,828.2 1582.0,834.3 1583.4,829.2 1584.9,833.9 1586.3,832.1 1587.8,835.1 1589.3,835.5 1589.4,837.4 1589.6,838.4 1589.7,841.1 1589.8,841.5 1590.0,845.4 1590.1,844.5 1590.3,849.7 1590.4,847.2 1590.6,853.3 1590.7,850.9 1590.9,858.7 1591.0,852.9 1591.4,860.9 1591.9,855.5 1592.3,863.9 1592.7,860.2 1593.1,867.7 1593.6,861.5 1594.0,871.0 1595.0,866.5 1596.0,874.1 1597.0,867.7 1598.0,878.8 1600.0,871.9 1602.0,875.0" fill="none" stroke="#000" stroke-width="12" stroke-linejoin="round" stroke-miterlimit="2.5" stroke-linecap="round"/>
<path d="M155.3,1024.8 157.0,1019.6 158.8,1023.5 160.6,1015.1 162.3,1021.0 163.0,1015.4 163.7,1020.7 164.4,1010.7 165.1,1017.5 165.8,1007.9 166.5,1012.6 167.3,1004.0 168.0,1011.2 168.7,1002.3 169.4,1008.0 171.1,998.7 172.9,1007.5 174.6,1001.1 176.4,1007.3 178.2,1002.9 179.5,1008.7 180.8,999.4 182.1,1004.2 183.5,997.7 184.8,1003.0 186.1,996.0 187.4,1000.2 188.7,992.7 190.2,999.2 191.7,989.6 193.1,997.0 194.6,989.7 196.1,996.6 197.5,987.4 199.3,994.3 201.1,986.9 202.8,993.1 204.6,986.0 206.3,992.3 208.1,987.1 209.1,991.0 210.1,982.8 211.0,987.7 212.0,981.7 213.0,984.5 214.0,976.1 214.9,984.4 215.9,976.0 216.9,979.5 218.7,974.1 220.4,978.7 222.2,971.4 223.9,976.9 225.7,971.2 227.5,977.2 229.2,970.4 231.0,974.5 232.7,968.4 234.5,972.8 236.3,967.7 238.0,973.6 238.9,965.4 239.8,970.2 240.7,960.7 241.5,967.6 242.4,959.1 243.3,964.0 244.2,955.0 245.1,960.5 246.0,952.2 246.8,957.9 248.6,953.1 250.4,959.3 252.1,951.8 253.9,955.2 255.6,949.5 257.4,957.0 259.2,949.2 260.9,953.6 262.7,947.1 264.4,953.6 266.2,945.5 267.7,954.3 269.1,946.2 270.6,950.0 272.1,942.0 273.5,949.0 275.0,940.3 276.8,946.7 278.5,940.4 280.3,947.4 282.0,941.0 283.8,946.8 285.1,938.8 286.3,943.7 287.6,936.4 288.8,942.9 290.1,934.9 291.3,940.3 292.6,934.3 293.7,939.8 294.8,931.2 295.9,936.2 297.0,927.1 298.1,933.6 299.2,926.0 300.3,929.3 301.4,922.5 302.9,928.6 304.4,920.9 305.9,925.5 307.4,918.9 309.0,925.4 310.5,918.9 312.0,923.0 313.4,915.6 314.9,921.4 316.4,914.4 317.8,919.1 319.3,912.2 320.8,917.3 321.9,910.2 323.1,914.8 324.2,909.5 325.4,913.5 326.5,906.4 327.7,909.7 328.8,904.0 330.0,905.9 331.8,904.2 333.5,906.8 334.7,903.1 335.9,906.9 337.0,899.8 338.8,904.9 340.6,894.8 342.3,903.2 344.1,894.0 345.8,901.2 347.6,893.9 349.4,896.4 351.1,891.8 352.9,893.5 354.6,889.6 356.4,892.7 358.2,889.8 359.9,892.2 361.7,888.5 362.9,891.2 364.0,883.6 365.2,888.8 367.0,881.0 368.7,888.4 370.5,879.7 372.3,888.5 374.0,880.3 375.8,888.8 377.5,882.7 379.3,893.9 381.1,882.4 382.8,890.5 383.7,888.4 384.6,893.1 385.5,892.2 386.3,894.2 388.1,892.6 389.9,895.4 391.6,891.2 393.4,897.2 395.1,892.4 396.9,899.5 398.7,895.1 400.4,902.5 402.2,895.8 403.9,899.6 404.6,890.6 405.4,897.1 406.1,889.8 406.8,894.8 407.5,886.2 408.2,889.7 408.9,882.7 409.6,889.7 410.3,878.1 411.0,883.4 412.7,875.1 414.5,882.9 415.5,879.1 416.4,887.8 417.3,881.5 418.3,890.8 419.2,884.2 420.2,891.0 421.1,888.5 421.5,895.0 421.9,890.7 422.3,897.9 422.6,892.2 423.0,901.1 423.4,895.5 423.8,903.9 424.1,901.0 424.5,908.7 424.9,903.9 425.3,911.1 425.7,905.3 426.0,913.7 426.4,910.3 426.7,917.9 427.0,914.6 427.3,921.2 427.7,916.4 428.0,924.6 428.3,919.4 428.6,928.6 428.9,923.4 429.2,930.9 429.5,925.1 429.8,936.5 430.1,928.4 430.4,937.4 430.8,934.5 431.1,942.0 431.4,937.4 431.7,944.1 432.0,941.0 432.3,947.3 432.6,942.6 432.9,950.6 433.2,947.3 433.6,953.4 433.9,950.3 434.2,957.1 434.5,954.6 434.8,960.2 435.1,957.8 435.4,966.3 435.7,960.7 436.0,967.8 436.4,963.2 436.7,971.8 437.0,967.2 437.3,973.6 437.6,969.8 438.0,979.5 438.3,972.6 438.6,981.4 439.0,977.5 439.3,984.2 439.6,979.4 439.9,987.7 440.3,982.9 440.6,990.3 440.9,984.7 441.3,996.0 441.6,990.7 441.9,997.6 442.3,992.9 442.8,1000.7 443.3,994.5 443.8,1004.4 444.4,999.5 444.9,1006.1 445.4,1003.2 446.0,1012.1 446.5,1005.4 447.0,1013.9 447.5,1009.1 448.9,1015.8 450.2,1010.3 451.5,1018.0 452.9,1010.8 454.4,1020.9 456.0,1013.1 457.5,1020.1 459.0,1012.6 460.6,1022.7 462.1,1015.0 463.7,1022.0 465.2,1016.2 466.8,1022.6 468.3,1015.5 469.9,1023.2 471.5,1017.7 473.0,1026.9 474.6,1019.1 476.2,1026.1 477.7,1021.5 479.3,1026.8 480.6,1021.3 481.8,1026.3 483.1,1016.6 484.3,1023.4 485.6,1016.1 486.8,1022.2 488.1,1015.5 489.6,1021.8 491.2,1013.7 492.7,1018.3 494.3,1013.1 495.8,1017.1 497.3,1011.1 498.9,1019.2 500.4,1010.5 501.3,1015.0 502.2,1008.4 503.1,1012.8 503.9,1005.5 504.8,1008.9 505.7,1000.6 506.6,1006.5 507.5,1000.2 508.3,1004.2 509.2,997.2 510.3,1002.3 511.4,994.0 512.5,999.7 513.6,991.1 514.7,998.1 515.8,989.1 516.9,993.8 518.0,987.3 519.3,992.5 520.7,988.9 522.0,996.0 523.3,991.2 524.6,997.3 526.0,993.1 527.3,999.2 528.6,994.3 529.8,1001.7 531.1,996.6 532.4,1004.0 533.6,1001.0 534.9,1006.4 536.1,1003.2 537.4,1010.6 538.9,1005.0 540.5,1011.6 542.0,1006.9 543.6,1015.2 545.1,1007.3 546.6,1017.0 548.2,1009.8 549.7,1016.2 551.3,1012.3 552.8,1018.3 554.4,1012.6 556.0,1019.0 557.5,1013.0 559.1,1022.4 560.7,1016.3 562.2,1025.0 563.8,1017.1 565.6,1024.4 567.3,1018.0 569.1,1025.0 570.8,1016.9 572.6,1023.5 574.4,1016.2 576.1,1022.0 577.6,1016.3 579.1,1019.8 580.5,1013.3 582.0,1017.8 583.5,1011.6 584.9,1016.0 586.5,1009.7 588.0,1018.3 589.6,1013.5 591.1,1018.5 592.6,1014.3 594.2,1021.1 595.7,1015.6 597.3,1021.6 599.0,1015.1 600.8,1019.7 602.5,1013.8 604.3,1018.8 606.1,1011.8 607.8,1018.0 609.6,1013.6 611.3,1019.0 613.1,1013.6 614.9,1019.7 616.6,1014.2 618.4,1018.4 620.1,1011.8 621.9,1018.5 623.7,1011.6 625.1,1015.8 626.6,1008.3 628.1,1016.1 629.5,1008.0 631.0,1011.7 632.5,1003.8 634.2,1014.2 636.0,1006.3 637.7,1014.2 639.5,1007.6 641.3,1014.4 642.6,1007.6 643.9,1014.8 645.2,1006.2 646.5,1010.3 647.9,1004.7 649.2,1008.2 650.5,1002.3 651.8,1005.7 653.6,999.0 655.4,1004.7 657.1,996.4 658.9,1003.2 660.6,997.5 661.4,1002.2 662.2,992.1 663.0,999.1 663.8,992.1 664.6,997.5 665.4,986.4 666.2,992.2 667.0,984.5 667.8,989.3 668.6,982.2 669.4,987.4 670.3,980.1 671.2,985.9 672.1,975.8 673.0,982.0 673.8,971.8 674.7,978.1 675.6,969.8 676.5,974.7 677.4,967.9 678.2,971.6 679.1,964.4 680.0,969.9 681.8,963.5 683.5,968.5 685.3,963.5 687.0,968.7 688.8,962.9 690.6,969.5 692.3,962.1 694.1,968.4 695.8,962.2 697.6,969.5 699.4,959.8 701.1,968.0 702.2,963.6 703.3,970.5 704.4,965.1 705.5,973.2 706.6,966.4 707.7,975.1 708.8,971.2 709.9,977.5 711.2,971.7 712.6,976.7 713.9,969.3 715.2,974.8 716.5,967.3 717.9,971.9 719.2,965.4 720.5,970.0 721.4,964.1 722.3,974.3 723.1,968.9 724.0,976.5 724.9,970.2 725.8,979.3 726.7,974.7 727.5,982.6 729.0,975.3 730.4,982.5 731.9,979.4 733.3,983.8 734.7,981.8 736.2,983.7 737.6,984.0 738.3,985.7 739.0,986.6 739.6,989.2 740.3,989.4 741.0,993.2 741.7,991.6 742.3,995.5 743.0,993.9 743.7,999.0 744.4,996.0 745.1,1002.8 745.7,999.4 746.4,1007.1 747.9,1001.9 749.3,1006.9 750.8,1001.3 752.3,1008.6 753.7,1004.8 755.2,1010.0 757.0,1006.6 758.7,1011.1 760.5,1007.1 762.3,1011.3 764.0,1007.7 765.8,1012.4 767.5,1008.9 769.3,1013.7 771.1,1010.0 772.8,1015.3 774.3,1008.7 775.8,1011.7 777.2,1007.7 778.7,1010.7 780.2,1006.3 781.6,1008.4 783.1,1005.4 784.6,1010.0 786.0,1008.0 787.5,1011.8 789.0,1008.9 790.4,1013.7 791.9,1011.7 793.4,1016.2 794.8,1010.1 796.3,1017.2 797.8,1012.3 799.2,1019.8 801.0,1011.7 802.7,1019.9 804.5,1010.6 806.3,1021.5 808.0,1008.8 809.5,1019.3 811.0,1011.9 812.4,1019.3 813.9,1013.2 815.4,1021.4 816.8,1018.2 818.6,1021.2 820.4,1018.7 822.1,1022.0 823.9,1021.0 825.6,1023.2 827.4,1021.2 829.2,1022.7 830.9,1018.7 832.7,1023.2 834.4,1016.7 836.2,1023.0 838.0,1018.0 839.7,1022.3 841.5,1016.0 843.2,1021.4 845.0,1016.2 846.8,1020.8 848.5,1014.4 850.3,1020.3 852.0,1015.1 853.8,1019.8 855.6,1013.1 857.3,1021.1 859.1,1014.9 860.8,1022.8 862.6,1016.3 864.4,1022.2 866.1,1013.8 867.9,1020.1 869.6,1014.8 871.4,1019.2 873.2,1012.9 874.9,1019.8 876.7,1013.2 878.5,1018.6 880.2,1011.6 882.0,1019.0 883.7,1011.6 885.5,1016.6 887.3,1009.9 888.7,1013.2 890.2,1006.8 891.7,1013.6 893.1,1006.5 894.6,1010.8 896.1,1003.0 897.5,1008.2 899.0,1001.7 900.5,1006.6 901.9,1001.7 903.4,1002.8 904.9,999.5 906.6,1002.2 908.4,999.5 910.1,1002.3 911.9,997.0 913.7,1004.9 915.4,997.1 917.2,1002.4 918.9,998.0 920.7,1002.0 922.5,996.1 924.2,1002.3 926.0,996.9 927.7,1000.6 929.5,996.6 931.3,1000.6 933.0,997.9 934.8,1004.3 936.5,995.7 938.3,1005.6 940.1,998.3 941.8,1004.8 943.6,999.0 945.4,1006.4 947.1,997.8 948.9,1002.3 950.3,999.0 951.8,1004.8 953.3,1002.0 954.7,1006.6 956.2,1004.3 957.7,1007.1 959.4,1005.2 961.2,1008.1 963.0,1006.3 964.7,1009.6 966.5,1006.8 967.9,1010.6 969.4,1009.1 970.9,1012.0 972.3,1009.8 973.8,1013.4 975.3,1012.0 977.0,1014.9 978.8,1011.1 980.6,1015.6 982.3,1010.3 984.1,1016.1 985.6,1011.0 987.0,1016.5 988.5,1012.8 990.0,1019.4 991.4,1015.2 992.9,1020.6 994.4,1013.4 995.8,1017.8 997.3,1011.8 998.8,1018.0 1000.2,1010.1 1001.7,1015.5 1003.5,1009.6 1005.2,1016.3 1007.0,1008.9 1008.7,1014.6 1010.5,1008.2 1012.3,1014.5 1014.0,1009.7 1015.8,1013.4 1017.5,1009.9 1019.3,1014.5 1021.0,1011.5 1022.6,1015.6 1024.3,1010.3 1025.9,1019.6 1027.6,1012.6 1029.1,1017.2 1030.5,1007.9 1032.0,1014.4 1033.5,1008.2 1034.9,1013.3 1036.4,1005.4 1038.2,1009.8 1039.9,1004.8 1041.7,1009.2 1043.5,1003.3 1045.2,1009.1 1047.0,1001.2 1048.7,1007.2 1050.5,1001.8 1052.3,1007.5 1054.0,1004.0 1055.5,1005.9 1056.9,1001.9 1058.4,1003.8 1059.9,999.8 1061.3,1001.8 1062.8,997.4 1064.6,1000.2 1066.3,996.6 1068.1,1000.4 1069.9,993.9 1071.6,999.1 1073.4,992.1 1075.1,999.7 1076.9,993.0 1078.7,996.3 1080.4,991.3 1082.2,996.1 1083.9,990.0 1085.7,994.8 1087.5,988.4 1089.2,992.9 1091.0,986.6 1092.7,992.7 1094.5,985.9 1096.3,991.4 1098.0,982.3 1099.8,991.8 1101.5,986.2 1103.3,991.9 1105.1,987.4 1106.8,991.6 1108.1,988.5 1109.3,993.8 1110.6,990.0 1111.9,995.5 1113.1,993.5 1114.4,998.9 1115.6,994.8 1117.4,999.4 1119.2,996.0 1120.9,1001.0 1122.7,993.2 1124.4,1003.3 1126.2,996.3 1128.0,1003.4 1129.7,996.2 1131.5,1004.3 1133.2,999.2 1135.0,1004.8 1136.8,1000.5 1138.5,1004.5 1140.3,1000.6 1142.0,1004.1 1143.8,1000.8 1145.6,1004.6 1147.3,1001.3 1149.1,1006.4 1150.8,1000.1 1152.3,1006.8 1153.8,1001.7 1155.2,1008.7 1156.7,1004.2 1158.2,1010.2 1159.6,1005.2 1161.1,1008.7 1162.6,1003.7 1164.0,1009.3 1165.5,1001.8 1167.0,1007.0 1168.5,998.6 1170.2,1007.5 1172.0,1000.8 1173.7,1007.0 1175.5,1002.7 1177.3,1007.8 1179.0,1003.2 1180.8,1010.9 1182.5,1002.1 1184.3,1011.8 1186.1,1001.1 1187.8,1008.2 1189.6,1000.2 1191.3,1008.6 1193.1,998.9 1194.9,1005.5 1196.6,998.5 1198.4,1005.6 1200.1,997.9 1201.9,1003.2 1203.7,998.4 1205.4,1003.9 1207.2,998.8 1208.9,1003.5 1210.7,998.0 1212.5,1003.3 1214.2,999.6 1216.0,1002.5 1217.7,999.0 1219.5,1003.3 1221.3,998.2 1223.0,1001.1 1224.8,997.3 1226.5,1000.9 1228.3,995.9 1230.1,999.4 1231.8,995.3 1233.6,999.0 1235.4,995.0 1237.1,1000.5 1238.9,993.1 1240.6,999.5 1242.4,993.6 1244.2,1002.4 1245.9,989.7 1247.7,999.0 1249.4,989.3 1251.2,999.9 1253.0,990.8 1254.7,998.0 1256.5,992.2 1258.2,996.4 1260.0,991.3 1261.8,995.9 1263.5,991.0 1265.3,994.0 1266.7,991.5 1268.2,995.3 1269.7,992.2 1271.2,997.6 1272.6,992.4 1274.1,998.2 1275.6,992.7 1277.0,997.0 1278.5,989.0 1280.0,998.7 1281.4,986.9 1282.9,998.3 1284.4,986.5 1285.8,995.7 1287.3,989.3 1288.8,998.0 1290.2,989.8 1291.7,998.2 1293.2,991.4 1294.6,996.6 1296.1,990.0 1297.6,995.1 1299.0,988.9 1300.5,993.4 1302.3,987.9 1304.0,991.7 1305.8,985.8 1307.5,990.8 1309.3,985.8 1311.1,990.6 1312.9,985.8 1314.6,994.2 1316.4,986.3 1318.2,993.2 1320.0,988.4 1321.8,995.3 1323.7,986.1 1325.5,995.3 1327.3,985.6 1329.1,995.5 1330.9,983.7 1332.7,997.1 1334.6,981.6 1336.4,1002.9 1338.2,985.1 1340.0,996.6 1341.8,984.8 1343.7,992.7 1345.5,986.2 1346.8,989.8 1348.1,983.3 1349.4,989.8 1350.7,978.0 1352.0,986.1 1353.3,974.9 1354.6,986.5 1355.6,977.8 1356.6,992.3 1357.6,979.6 1358.6,993.6 1359.6,982.6 1360.6,998.1 1361.7,985.7 1362.7,995.3 1363.7,983.0 1365.0,995.8 1366.3,986.4 1367.6,993.3 1368.9,979.2 1370.2,991.2 1371.5,981.7 1372.8,992.8 1374.6,978.4 1376.4,991.8 1378.2,974.7 1380.0,993.1 1381.9,976.0 1383.7,995.4 1385.5,980.9 1387.3,998.5 1389.1,976.7 1391.0,999.3 1392.8,978.1 1394.6,994.3 1396.4,982.6 1398.2,991.3 1400.1,982.0 1401.6,994.1 1403.1,984.2 1404.6,994.1 1406.1,985.5 1407.6,997.6 1409.2,986.2 1410.7,994.7 1412.2,985.1 1413.7,994.1 1415.2,983.5 1416.7,993.2 1418.3,984.5 1420.1,991.4 1421.9,983.2 1423.7,992.0 1425.5,984.1 1427.3,990.2 1429.2,980.3 1431.0,991.1 1432.8,978.3 1434.6,996.2 1436.4,976.0 1438.3,997.6 1440.1,982.2 1441.9,999.1 1443.7,983.5 1445.5,994.5 1447.1,987.1 1448.6,996.5 1450.1,987.8 1451.6,999.0 1453.1,987.2 1454.6,1004.2 1456.5,986.3 1458.3,1001.2 1460.1,986.4 1461.9,1001.5 1463.7,990.3 1465.6,1000.2 1467.4,990.2 1469.2,1000.5 1471.0,991.7 1472.8,1003.1 1474.0,989.7 1475.1,1000.8 1476.2,985.3 1477.4,995.5 1478.5,983.3 1479.7,996.2 1480.8,976.8 1481.9,991.7 1483.7,978.6 1485.6,989.9 1487.4,977.3 1489.2,988.5 1491.0,979.4 1492.5,991.6 1494.1,979.5 1495.6,996.1 1497.1,972.5 1498.6,997.3 1500.1,973.9 1501.9,992.8 1503.8,978.7 1505.6,998.2 1507.4,980.2 1509.2,991.9 1510.7,977.9 1512.2,990.8 1513.8,974.5 1515.3,989.2 1516.8,970.0 1518.3,989.6 1520.1,972.7 1521.9,986.8 1523.8,975.5 1525.6,989.2 1527.4,975.1 1529.2,991.1 1531.0,973.3 1532.9,988.3 1534.7,971.2 1536.5,997.5 1538.3,974.1 1540.1,993.5 1542.0,976.2 1543.8,984.9 1545.6,978.3 1547.4,984.0 1549.2,974.8 1551.1,983.8 1552.9,976.6 1554.7,983.3 1555.7,979.7 1556.7,988.3 1557.7,980.9 1558.7,991.5 1559.7,982.5 1560.8,996.8 1561.8,986.6 1562.8,997.0 1563.8,983.4 1565.3,996.6 1566.8,987.1 1568.3,997.0 1569.9,985.7 1571.4,993.3 1572.9,984.6 1574.4,990.8 1575.9,981.9 1577.4,990.6 1579.0,982.3 1580.5,988.7 1582.0,979.5 1583.8,985.7 1585.6,980.6 1587.4,983.7 1589.3,981.4 1589.3,983.1 1589.4,984.2 1589.4,987.2 1589.5,986.5 1589.5,990.5 1589.6,989.9 1589.6,993.9 1589.7,993.1 1589.7,998.2 1589.8,995.9 1589.8,1002.9 1589.9,996.6 1589.9,1005.1 1590.0,1001.7 1590.4,1008.9 1590.9,1004.0 1591.3,1010.7 1591.7,1007.5 1592.1,1013.9 1592.6,1010.8 1593.0,1018.7 1594.0,1014.6 1595.0,1020.9 1596.0,1017.1 1597.0,1024.6 1598.7,1019.4 1600.3,1025.5 1602.0,1023.0" fill="none" stroke="#ff0000" stroke-width="12" stroke-linejoin="round" stroke-miterlimit="2.5" stroke-linecap="round"/>
</g>
<rect x="153.5" y="44.5" width="1449" height="1092" fill="none" stroke="#000" stroke-width="5"/>
<g stroke="#000" stroke-width="4.5">
<line x1="244.1" y1="1136.5" x2="244.1" y2="1122.0"/>
<line x1="334.7" y1="1136.5" x2="334.7" y2="1112.0"/>
<line x1="425.2" y1="1136.5" x2="425.2" y2="1122.0"/>
<line x1="515.8" y1="1136.5" x2="515.8" y2="1112.0"/>
<line x1="606.4" y1="1136.5" x2="606.4" y2="1122.0"/>
<line x1="696.9" y1="1136.5" x2="696.9" y2="1112.0"/>
<line x1="787.5" y1="1136.5" x2="787.5" y2="1122.0"/>
<line x1="878.0" y1="1136.5" x2="878.0" y2="1112.0"/>
<line x1="968.5" y1="1136.5" x2="968.5" y2="1122.0"/>
<line x1="1059.1" y1="1136.5" x2="1059.1" y2="1112.0"/>
<line x1="1149.6" y1="1136.5" x2="1149.6" y2="1122.0"/>
<line x1="1240.2" y1="1136.5" x2="1240.2" y2="1112.0"/>
<line x1="1330.7" y1="1136.5" x2="1330.7" y2="1122.0"/>
<line x1="1421.3" y1="1136.5" x2="1421.3" y2="1112.0"/>
<line x1="1511.8" y1="1136.5" x2="1511.8" y2="1122.0"/>
</g>
<g font-family="'DejaVu Sans', sans-serif" font-size="72" fill="#000" stroke="#000" stroke-width="0.9">
<text transform="translate(153.6,1214) scale(0.85,1)" text-anchor="middle" letter-spacing="-0.7">200</text>
<text transform="translate(334.7,1214) scale(0.85,1)" text-anchor="middle" letter-spacing="-0.7">400</text>
<text transform="translate(515.8,1214) scale(0.85,1)" text-anchor="middle" letter-spacing="-0.7">600</text>
<text transform="translate(696.9,1214) scale(0.85,1)" text-anchor="middle" letter-spacing="-0.7">800</text>
<text transform="translate(878.0,1214) scale(0.85,1)" text-anchor="middle" letter-spacing="-0.7">1000</text>
<text transform="translate(1059.1,1214) scale(0.85,1)" text-anchor="middle" letter-spacing="-0.7">1200</text>
<text transform="translate(1240.2,1214) scale(0.85,1)" text-anchor="middle" letter-spacing="-0.7">1400</text>
<text transform="translate(1421.3,1214) scale(0.85,1)" text-anchor="middle" letter-spacing="-0.7">1600</text>
<text transform="translate(1602.4,1214) scale(0.85,1)" text-anchor="middle" letter-spacing="-0.7">1800</text>
</g>
<g font-family="'Liberation Sans', sans-serif" font-size="60.6" fill="#000">
<line x1="219" y1="115.5" x2="297" y2="115.5" stroke="#0000ff" stroke-width="12.7" stroke-linecap="round"/>
<line x1="226" y1="209" x2="303" y2="209" stroke="#000" stroke-width="12.7" stroke-linecap="round"/>
<line x1="226" y1="307.5" x2="304" y2="307.5" stroke="#ff0000" stroke-width="12.7" stroke-linecap="round"/>
<g stroke="#000" stroke-width="0.9"><text transform="translate(310,126) scale(0.93,1)">Fused silica + 20 nm gold layer</text>
<text transform="translate(313,218.2) scale(0.93,1)">Fused silica + LIPSS</text>
<text transform="translate(313,318.2) scale(0.93,1)">Fused silica</text></g>
</g>
<g font-family="'Liberation Sans', sans-serif" fill="#000" stroke="#000" stroke-width="0.9">
<text transform="translate(562.6,1323.3) scale(0.995,1)" font-size="71.7">Wave number [cm<tspan font-size="42" dy="-34">-1</tspan><tspan dy="34">]</tspan></text>
<text transform="translate(79,810) rotate(-90) scale(0.977,1)" font-size="72.4">Intensity [a.u.]</text>
</g>
<circle cx="1695.5" cy="1367" r="4.8" fill="#000"/>
</svg>
</body></html>
